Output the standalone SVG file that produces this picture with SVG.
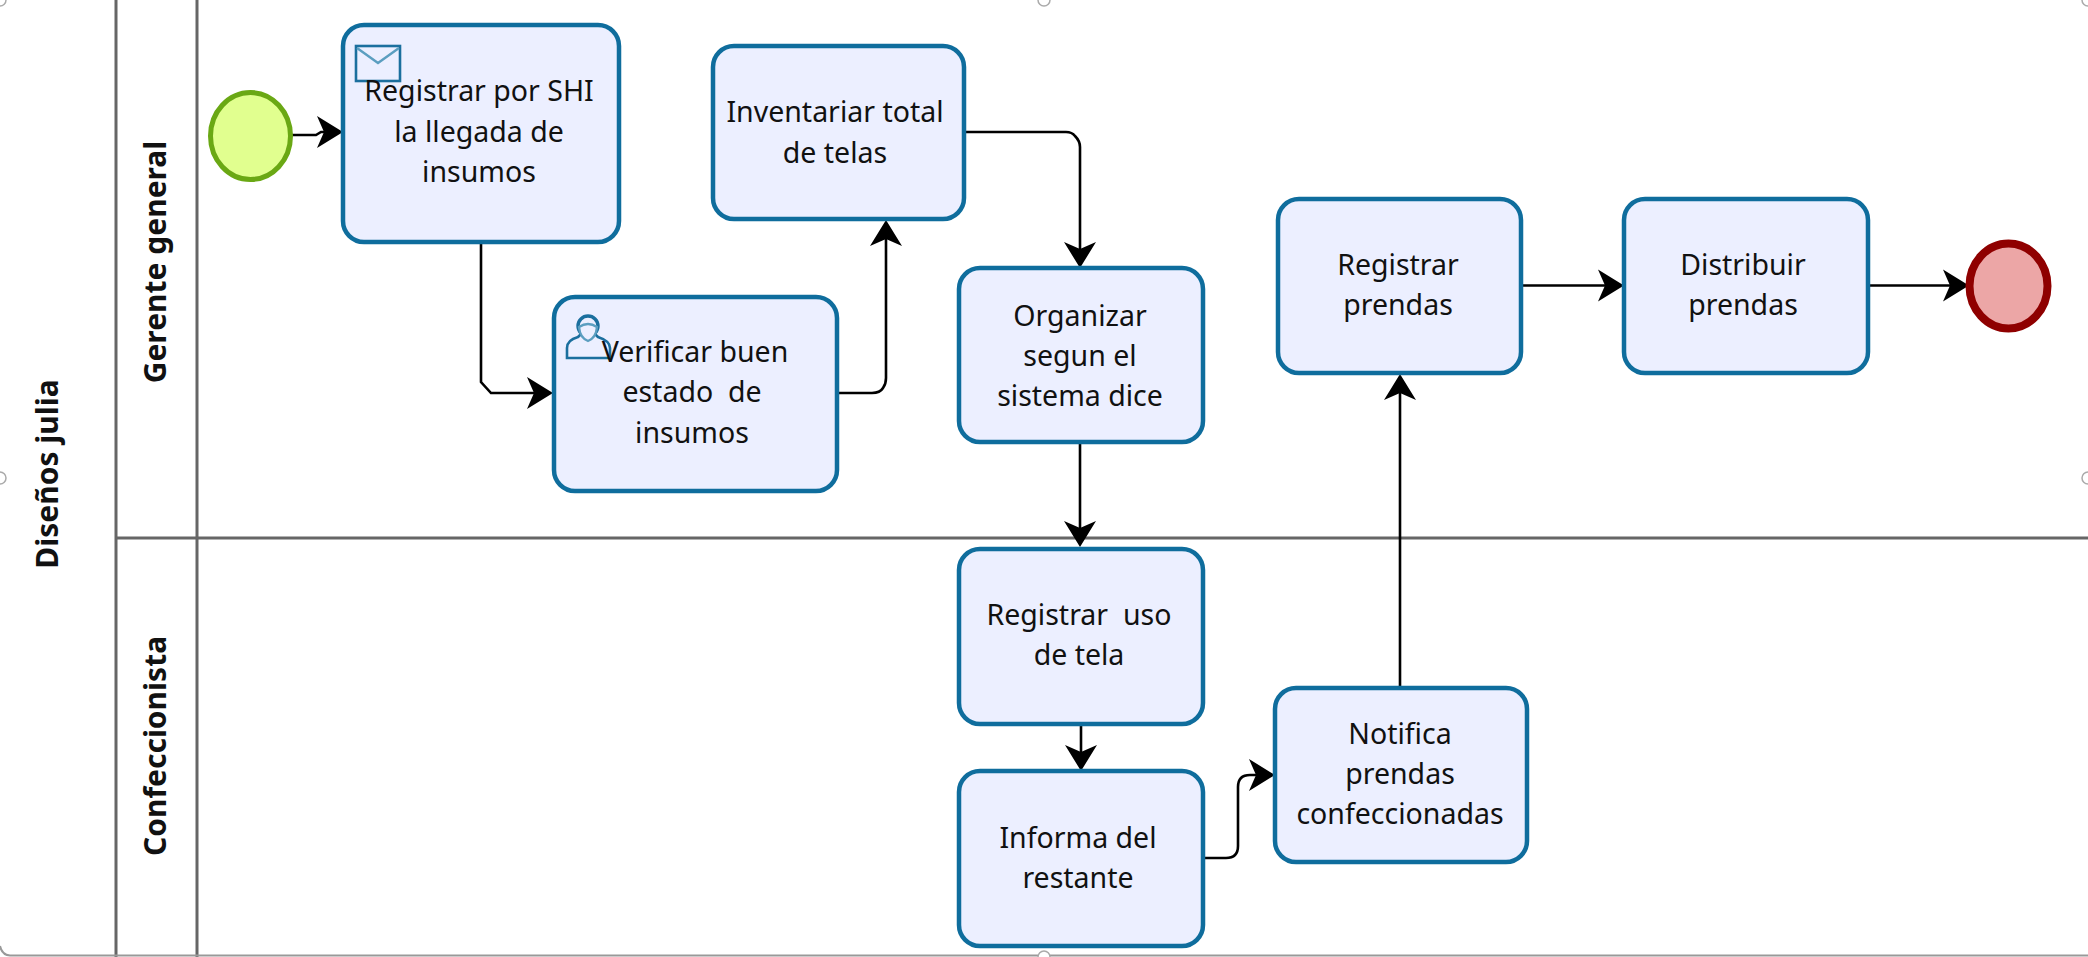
<svg xmlns="http://www.w3.org/2000/svg" width="2088" height="957" viewBox="0 0 2088 957">
<style>
.lane{stroke:#666;stroke-width:3;fill:none}
.task{fill:#ecefff;stroke:#0f6d9d;stroke-width:4.5}
.t{font-family:"Noto Sans","Open Sans",sans-serif;font-size:28.500px;fill:#111;text-anchor:middle}
.h{font-family:"Noto Sans","Open Sans",sans-serif;font-size:30px;font-weight:700;fill:#111;text-anchor:middle}
.c{fill:none;stroke:#000;stroke-width:2.6;marker-end:url(#a)}
.ic{fill:none;stroke:#1b6f9e;stroke-width:2.6}
.hd{fill:#fff;stroke:#aaa;stroke-width:1.5}
</style>
<defs>
<marker id="a" markerUnits="userSpaceOnUse" markerWidth="30" markerHeight="36" refX="20" refY="17" orient="auto">
<path d="M0 1L26 17L0 33L7 17Z" fill="#000"/>
</marker>
</defs>
<rect width="2088" height="957" fill="#fff"/>
<g id="pool">
<path class="lane" d="M116 0V957M197 0V957M116 538H2088"/>
<path d="M0 946Q2 955 10 955.500H2088" fill="none" stroke="#999" stroke-width="2"/>
<text class="h" transform="translate(58 474) rotate(-90)">Diseños julia</text>
<text class="h" transform="translate(166 262) rotate(-90)">Gerente general</text>
<text class="h" transform="translate(166 746) rotate(-90)">Confeccionista</text>
</g>
<g id="handles">
<circle class="hd" cx="0" cy="0" r="6"/><circle class="hd" cx="1044" cy="0" r="6"/><circle class="hd" cx="2088" cy="0" r="6"/>
<circle class="hd" cx="0" cy="478" r="6"/><circle class="hd" cx="2088" cy="478" r="6"/><circle class="hd" cx="1044" cy="957" r="6"/>
</g>
<g id="connectors">
<path class="c" d="M292 135H316L321 132H337"/>
<path class="c" d="M481 242V382L491 393H547"/>
<path class="c" d="M838 393H872Q880 393 883 388Q886 384 886 378V226"/>
<path class="c" d="M964 132H1066Q1072 132 1075 136Q1080 141 1080 147V262"/>
<path class="c" d="M1080 442V541"/>
<path class="c" d="M1081 724V765"/>
<path class="c" d="M1203 858H1226Q1238 858 1238 846V787Q1238 775 1250 775H1269"/>
<path class="c" d="M1400 686V380"/>
<path class="c" d="M1521 285.500H1618"/>
<path class="c" d="M1868 285.500H1963"/>
</g>
<g id="start"><ellipse cx="250.500" cy="136" rx="40" ry="43.500" fill="#e1ff8f" stroke="#6aa814" stroke-width="5"/></g>
<g id="end"><ellipse cx="2008.500" cy="286" rx="39" ry="42.500" fill="#eca6a6" stroke="#8f0000" stroke-width="8"/></g>
<g id="task1">
<rect class="task" x="343" y="25" width="276" height="217" rx="21"/>
<rect class="ic" x="356" y="46" width="44" height="35"/>
<path d="M357 48L378 63L399 48" fill="none" stroke="#5b9ec0" stroke-width="2.400"/>
<text class="t" x="479" y="101">Registrar por SHI</text>
<text class="t" x="479" y="142">la llegada de</text>
<text class="t" x="479" y="182">insumos</text>
</g>
<g id="task2">
<rect class="task" x="554" y="297" width="283" height="194" rx="21"/>
<path class="ic" d="M567 358V348Q567 340 578 337L581 334H595L598 337Q610 341 610 348V358Z"/>
<circle cx="588" cy="326" r="10" fill="#ecefff" stroke="#1b6f9e" stroke-width="3.400"/>
<path d="M579 327Q588 321 597 327Q596 338 588 341Q580 338 579 327Z" fill="#ecefff" stroke="#5b9ec0" stroke-width="2.400"/>
<text class="t" x="695" y="362">Verificar buen</text>
<text class="t" x="692" y="402" xml:space="preserve">estado  de</text>
<text class="t" x="692" y="443">insumos</text>
</g>
<g id="task3">
<rect class="task" x="713" y="46" width="251" height="173" rx="21"/>
<text class="t" x="835" y="122">Inventariar total</text>
<text class="t" x="835" y="163">de telas</text>
</g>
<g id="task4">
<rect class="task" x="959" y="268" width="244" height="174" rx="21"/>
<text class="t" x="1080" y="326">Organizar</text>
<text class="t" x="1080" y="366">segun el</text>
<text class="t" x="1080" y="406">sistema dice</text>
</g>
<g id="task5">
<rect class="task" x="959" y="549" width="244" height="175" rx="21"/>
<text class="t" x="1079" y="625" xml:space="preserve">Registrar  uso</text>
<text class="t" x="1079" y="665">de tela</text>
</g>
<g id="task6">
<rect class="task" x="959" y="771" width="244" height="175" rx="21"/>
<text class="t" x="1078" y="848">Informa del</text>
<text class="t" x="1078" y="888">restante</text>
</g>
<g id="task7">
<rect class="task" x="1275" y="688" width="252" height="174" rx="21"/>
<text class="t" x="1400" y="744">Notifica</text>
<text class="t" x="1400" y="784">prendas</text>
<text class="t" x="1400" y="824">confeccionadas</text>
</g>
<g id="task8">
<rect class="task" x="1278" y="199" width="243" height="174" rx="21"/>
<text class="t" x="1398" y="275">Registrar</text>
<text class="t" x="1398" y="315">prendas</text>
</g>
<g id="task9">
<rect class="task" x="1624" y="199" width="244" height="174" rx="21"/>
<text class="t" x="1743" y="275">Distribuir</text>
<text class="t" x="1743" y="315">prendas</text>
</g>
</svg>
